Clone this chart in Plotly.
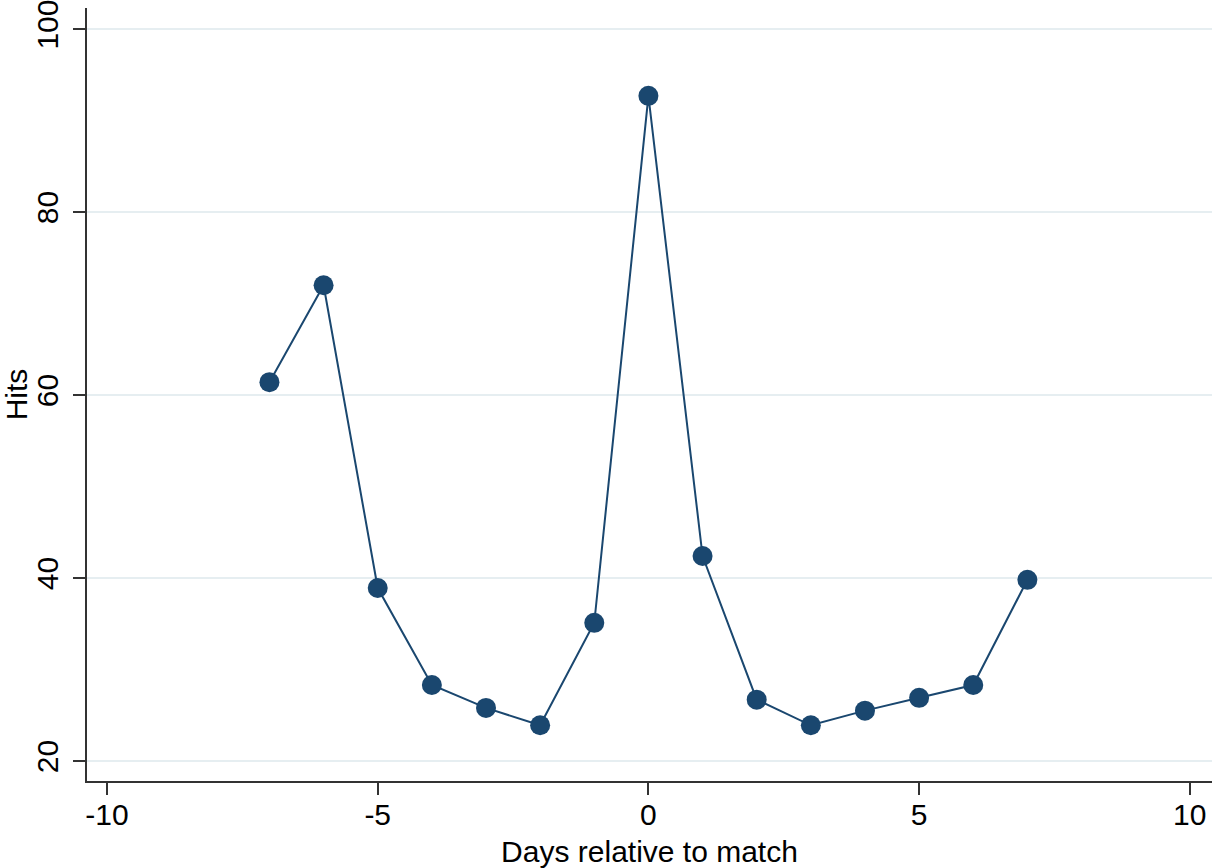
import plotly.graph_objects as go

# Daily hits around the match day
days = [-7, -6, -5, -4, -3, -2, -1, 0, 1, 2, 3, 4, 5, 6, 7]
hits = [61.4, 72.0, 38.9, 28.3, 25.8, 23.9, 35.1, 92.7, 42.4, 26.7, 23.9, 25.5, 26.9, 28.3, 39.8]

x_ticks = [-10, -5, 0, 5, 10]
y_ticks = [20, 40, 60, 80, 100]

navy = "#1a476f"
font = dict(family="Liberation Sans, Arial, Helvetica, sans-serif", size=30, color="#000000")

fig = go.Figure()
fig.add_trace(go.Scatter(
    x=days, y=hits, mode="lines+markers",
    line=dict(color=navy, width=2),
    marker=dict(color=navy, size=20),
    showlegend=False,
))

fig.update_layout(
    width=1212, height=868,
    margin=dict(l=87, r=0, t=8, b=87),
    paper_bgcolor="white", plot_bgcolor="white",
    font=font,
)
fig.update_xaxes(
    range=[-10.37, 10.41], tickvals=x_ticks, ticktext=[str(v) for v in x_ticks],
    showgrid=False, zeroline=False,
    showline=True, linecolor="#333333", linewidth=2,
    ticks="outside", ticklen=12, tickwidth=1.5, tickcolor="#333333",
    ticklabelstandoff=-6, ticklabeloverflow="allow",
    title=dict(text="Days relative to match", standoff=12, font=font),
)
fig.update_yaxes(
    range=[17.81, 102.3], tickvals=y_ticks, ticktext=[str(v) for v in y_ticks],
    tickangle=-90,
    showgrid=True, gridcolor="#e6eef1", gridwidth=1.5, zeroline=False,
    showline=True, linecolor="#333333", linewidth=2,
    ticks="outside", ticklen=12, tickwidth=1.5, tickcolor="#333333",
    ticklabelstandoff=3, ticklabeloverflow="allow",
    title=dict(text="Hits", standoff=4, font=font),
)

fig.write_html("out.html")
